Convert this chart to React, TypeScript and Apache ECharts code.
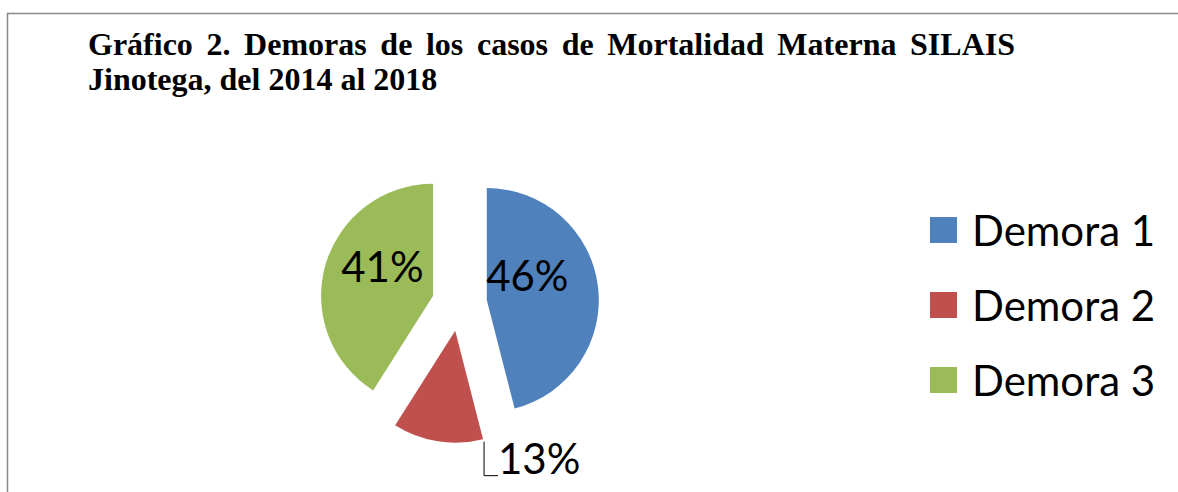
import React, { useEffect, useRef } from "react";
import * as echarts from "echarts";

const CATEGORIES = ["Demora 1", "Demora 2", "Demora 3"];
const VALUES = [46, 13, 41];
const COLORS = ["#4F81BD", "#C0504D", "#9BBB59"];
const TITLE_LINE1 = "Gráfico 2. Demoras de los casos de Mortalidad Materna SILAIS";
const TITLE_LINE2 = "Jinotega, del 2014 al 2018";

const SANS = "Lato, 'Open Sans', sans-serif";
const SERIF = "'Liberation Serif', 'Times New Roman', serif";

function justifiedWords(text: string, left: number, right: number, fontPx: number, y: number) {
  const words = text.split(" ");
  const canvas = document.createElement("canvas");
  const ctx = canvas.getContext("2d")!;
  ctx.font = `bold ${fontPx}px 'Liberation Serif'`;
  const widths = words.map((w) => ctx.measureText(w).width);
  const total = widths.reduce((a, b) => a + b, 0);
  const gap = (right - left - total) / (words.length - 1);
  let x = left;
  return words.map((w, i) => {
    const el = {
      type: "text",
      x,
      y,
      style: {
        text: w,
        fontFamily: SERIF,
        fontSize: fontPx,
        fontWeight: "bold",
        fill: "#000",
        textAlign: "left",
        textVerticalAlign: "middle",
      },
    };
    x += widths[i] + gap;
    return el;
  });
}

export default function App() {
  const ref = useRef<HTMLDivElement>(null);
  useEffect(() => {
    if (!ref.current) return;
    const chart = echarts.init(ref.current, null, { renderer: "svg" });
    const titleFont = 32;
    const option: any = {
      animation: false,
      backgroundColor: "#fff",
      graphic: [
        {
          type: "rect",
          shape: { x: 7.5, y: 13.5, width: 1400, height: 700 },
          style: { fill: "none", stroke: "#898989", lineWidth: 1.5 },
          silent: true,
        },
        ...justifiedWords(TITLE_LINE1, 88, 1015, titleFont, 44),
        {
          type: "text",
          x: 88,
          y: 79,
          style: {
            text: TITLE_LINE2,
            fontFamily: SERIF,
            fontSize: titleFont,
            fontWeight: "bold",
            fill: "#000",
            textAlign: "left",
            textVerticalAlign: "middle",
          },
        },
      ],
      legend: {
        orient: "vertical",
        left: 930,
        top: 206,
        padding: 0,
        icon: "rect",
        itemWidth: 27,
        itemHeight: 26,
        itemGap: 27,
        selectedMode: false,
        data: CATEGORIES,
        textStyle: {
          fontFamily: SANS,
          fontSize: 42,
          lineHeight: 48,
          color: "#000",
          padding: [0, 0, 0, 10],
        },
      },
      series: [
        {
          type: "pie",
          center: [459.5, 303.5],
          radius: 112,
          startAngle: 90,
          clockwise: true,
          selectedMode: "multiple",
          selectedOffset: 27.5,
          percentPrecision: 0,
          avoidLabelOverlap: false,
          emphasis: { disabled: true },
          itemStyle: { borderWidth: 0 },
          label: {
            formatter: "{d}%",
            fontFamily: SANS,
            fontSize: 42,
            color: "#000",
          },
          labelLine: {
            lineStyle: { color: "#000", width: 1 },
          },
          labelLayout: (params: any) => {
            if (params.dataIndex === 0) return { dx: -18, dy: -18 };
            if (params.dataIndex === 2) return { dx: 6, dy: -13 };
            const r = params.rect;
            const right = r.x + r.width;
            const bottom = r.y + r.height;
            return {
              dx: 180,
              dy: 2,
              labelLinePoints: [
                [right + 1, bottom - 1],
                [right + 1, bottom + 33],
                [right + 15, bottom + 33],
              ],
            };
          },
          data: CATEGORIES.map((name, i) => ({
            name,
            value: VALUES[i],
            selected: true,
            itemStyle: { color: COLORS[i] },
            label: { position: i === 1 ? "outside" : "inside" },
            labelLine: { show: i === 1 },
          })),
        },
      ],
    };
    chart.setOption(option);
    return () => chart.dispose();
  }, []);
  return (
    <div
      ref={ref}
      style={{ position: "absolute", left: 0, top: 0, width: 1178, height: 492 }}
    />
  );
}
